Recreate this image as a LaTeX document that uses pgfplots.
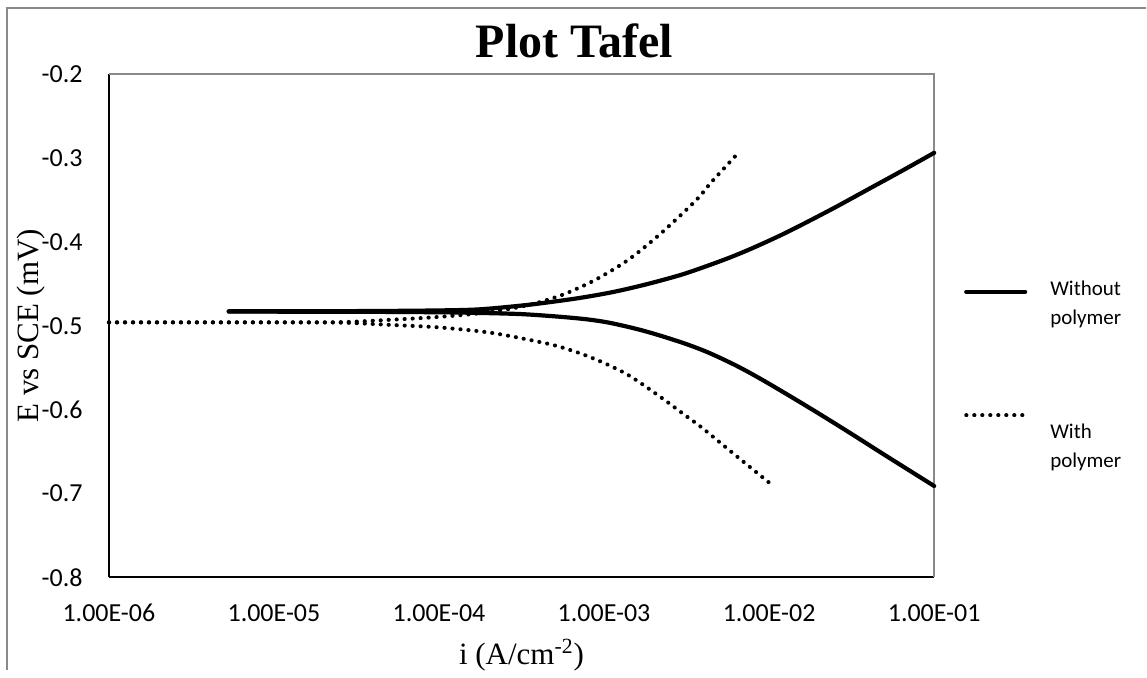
\documentclass[border=0pt]{standalone}
\usepackage{fontspec}
\setmainfont{Liberation Serif}
\newfontfamily\calibri{Carlito}
\usepackage{pgfplots}
\pgfplotsset{compat=1.18}
\definecolor{bordergray}{RGB}{137,137,137}

\begin{document}
\begin{tikzpicture}
\path (-54.5pt,-46.5pt) rectangle (519pt,289pt);
\draw[bordergray, line width=1pt] (-51pt,-46.5pt) -- (-51pt,285pt) -- (519pt,285pt);
\begin{axis}[
  at={(0,0)}, anchor=south west,
  scale only axis, width=413pt, height=252pt,
  xmode=log, xmin=1e-6, xmax=1e-1, ymin=-0.8, ymax=-0.2,
  axis lines=left,
  axis line style={-, black, line width=1pt},
  clip=false,
  xtick={1e-6,1e-5,1e-4,1e-3,1e-2,1e-1},
  xticklabels={1.00E-06,1.00E-05,1.00E-04,1.00E-03,1.00E-02,1.00E-01},
  ytick={-0.8,-0.7,-0.6,-0.5,-0.4,-0.3,-0.2},
  yticklabels={-0.8,-0.7,-0.6,-0.5,-0.4,-0.3,-0.2},
  major tick length=0pt, minor tick length=0pt,
  tick style={draw=none},
  tick label style={font=\calibri\fontsize{13}{15}\selectfont},
  xticklabel style={anchor=base, inner sep=0pt, yshift=-22pt},
  yticklabel style={anchor=east, inner sep=0pt, xshift=-13pt},
  title={Plot Tafel},
  title style={font=\fontsize{24}{28}\selectfont\bfseries, at={(axis description cs:0.564,1.0377)}, anchor=base, yshift=-7.5pt},
  xlabel={i (A/cm\textsuperscript{-2})},
  xlabel style={font=\fontsize{15.5}{18}\selectfont, at={(axis description cs:0.5,-0.1726)}, anchor=base},
  ylabel={E vs SCE (mV)},
  ylabel style={font=\fontsize{15.5}{18}\selectfont, at={(axis description cs:-0.0944,0.5)}, anchor=center},
  legend style={at={(axis description cs:1,0.5998)}, anchor=north west, xshift=15pt,
    draw=none, fill=none, inner sep=0pt, outer sep=0pt, row sep=59.4pt, column sep=11.5pt,
    font=\calibri\fontsize{10.5}{14.5}\selectfont, cells={anchor=base west}, nodes={inner sep=0pt}},
  legend image code/.code={\draw[#1] (0pt,0pt) -- (29.5pt,0pt);},
  solidc/.style={black, line width=2.1pt, line cap=round, line join=round, smooth},
  dotc/.style={black, line width=2pt, line cap=round, dash pattern=on 0.1pt off 3.9pt, smooth},
]
\draw[bordergray, line width=1.2pt] (rel axis cs:0,1) -- (rel axis cs:1,1) -- (rel axis cs:1,0);

\addplot[solidc] coordinates {
(5.32e-6,-0.4832) (3.16e-5,-0.4834) (1e-4,-0.4840) (1.778e-4,-0.4848) (3.162e-4,-0.4862)
(5.37e-4,-0.4893) (7.943e-4,-0.4925) (1.079e-3,-0.4965) (1.585e-3,-0.5040) (2.163e-3,-0.5115)
(3.162e-3,-0.5220) (4.345e-3,-0.5325) (6.310e-3,-0.5475) (8.73e-3,-0.5625) (1.259e-2,-0.5808)
(2.014e-2,-0.6050) (3.162e-2,-0.6290) (5.012e-2,-0.6540) (0.1,-0.691)};
\addlegendentry{\raisebox{-2pt}{\begin{tabular}[t]{@{}l@{}}Without\\polymer\end{tabular}}}
\addplot[solidc, forget plot] coordinates {
(5.32e-6,-0.4828) (3.16e-5,-0.4826) (1e-4,-0.4818) (1.762e-4,-0.4805) (3.162e-4,-0.476)
(4.457e-4,-0.4725) (7.079e-4,-0.467) (1.125e-3,-0.460) (1.778e-3,-0.451) (2.858e-3,-0.440)
(3.981e-3,-0.4305) (5.741e-3,-0.419) (7.943e-3,-0.4075) (1.153e-2,-0.393) (1.585e-2,-0.3795)
(2.512e-2,-0.359) (3.981e-2,-0.3375) (6.310e-2,-0.316) (0.1,-0.294)};

\addplot[dotc] coordinates {
(1e-6,-0.496) (1e-5,-0.496) (2.512e-5,-0.4963) (5.012e-5,-0.499) (1e-4,-0.502)
(1.995e-4,-0.508) (3.548e-4,-0.517) (5.37e-4,-0.525) (8.51e-4,-0.5385) (1.38e-3,-0.558)
(2.163e-3,-0.584) (3.162e-3,-0.608) (3.945e-3,-0.622) (6.31e-3,-0.655) (1.03e-2,-0.689)};
\addlegendentry{\raisebox{-11.5pt}{\begin{tabular}[t]{@{}l@{}}With\\polymer\end{tabular}}}
\addplot[dotc, forget plot] coordinates {
(1e-6,-0.496) (1e-5,-0.496) (2.512e-5,-0.4958) (5.012e-5,-0.493) (1e-4,-0.4895)
(1.995e-4,-0.484) (3.548e-4,-0.475) (5.623e-4,-0.463) (8.913e-4,-0.445) (1.413e-3,-0.421)
(2.239e-3,-0.389) (3.631e-3,-0.350) (4.467e-3,-0.329) (6.516e-3,-0.294)};
\end{axis}
\end{tikzpicture}
\end{document}
